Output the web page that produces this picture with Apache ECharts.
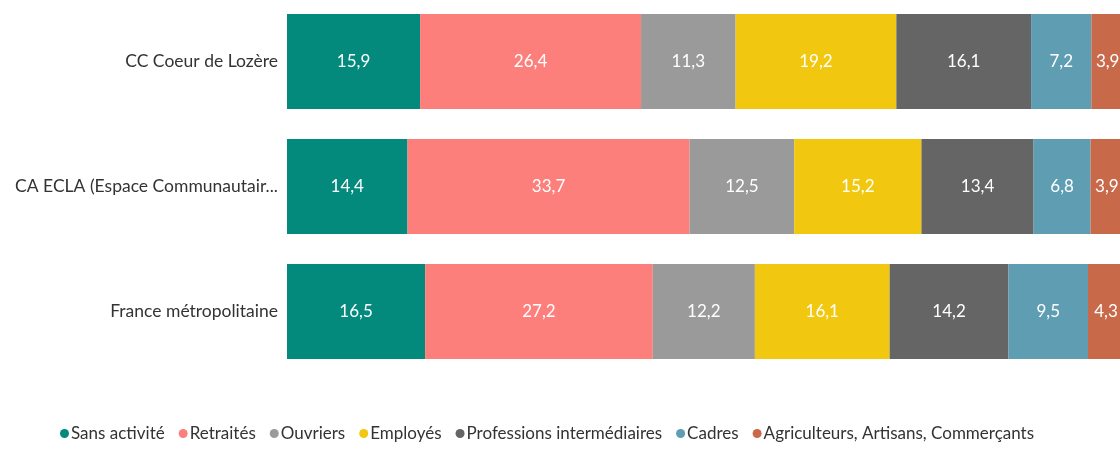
<!DOCTYPE html>
<html>
<head>
<meta charset="utf-8">
<script src="https://cdn.jsdelivr.net/npm/echarts@6/dist/echarts.min.js"></script>
<style>
  html, body { margin: 0; padding: 0; background: #fff; }
  #chart { width: 1120px; height: 450px; }
</style>
</head>
<body>
<div id="chart"></div>
<script>
// territoires
const categories = ['CC Coeur de Lozère', 'CA ECLA (Espace Communautaire Lons Agglomération)', 'France métropolitaine'];
const seriesNames = ['Sans activité', 'Retraités', 'Ouvriers', 'Employés', 'Professions intermédiaires', 'Cadres', 'Agriculteurs, Artisans, Commerçants'];
const colors = ['#038a7d', '#fc7f7b', '#9a9a9a', '#f1c80f', '#656565', '#5f9db2', '#c8694a'];

// valeurs en %
const sansActivite = [15.9, 14.4, 16.5];
const retraites = [26.4, 33.7, 27.2];
const ouvriers = [11.3, 12.5, 12.2];
const employes = [19.2, 15.2, 16.1];
const profInter = [16.1, 13.4, 14.2];
const cadres = [7.2, 6.8, 9.5];
const agriculteurs = [3.9, 3.9, 4.3];

const values = [sansActivite, retraites, ouvriers, employes, profInter, cadres, agriculteurs];
const font = 'Lato, "Open Sans", sans-serif';

const myChart = echarts.init(document.getElementById('chart'));
const option = {
  animation: false,
  color: colors,
  textStyle: { fontFamily: font },
  grid: { left: 287, right: -4, top: -1, bottom: 76, outerBoundsMode: 'none' },
  legend: {
    bottom: 3,
    left: 55,
    icon: 'circle',
    itemWidth: 9,
    itemHeight: 9,
    itemGap: 14,
    textStyle: { fontSize: 17, color: '#333', fontFamily: font, padding: [0, 0, 0, -3] },
    data: seriesNames
  },
  xAxis: {
    type: 'value',
    min: 0,
    max: 100,
    show: false
  },
  yAxis: {
    type: 'category',
    inverse: true,
    data: categories,
    axisLine: { show: false },
    axisTick: { show: false },
    axisLabel: {
      fontSize: 17.5,
      color: '#333',
      margin: 9,
      width: 268,
      overflow: 'truncate',
      ellipsis: '...'
    }
  },
  series: seriesNames.map((name, i) => ({
    name: name,
    type: 'bar',
    stack: 'total',
    barCategoryGap: '24%',
    data: values[i],
    label: {
      show: true,
      color: '#fff',
      fontSize: 17,
      fontFamily: font,
      formatter: p => String(p.value).replace('.', ',')
    }
  }))
};
option && myChart.setOption(option);
</script>
</body>
</html>
